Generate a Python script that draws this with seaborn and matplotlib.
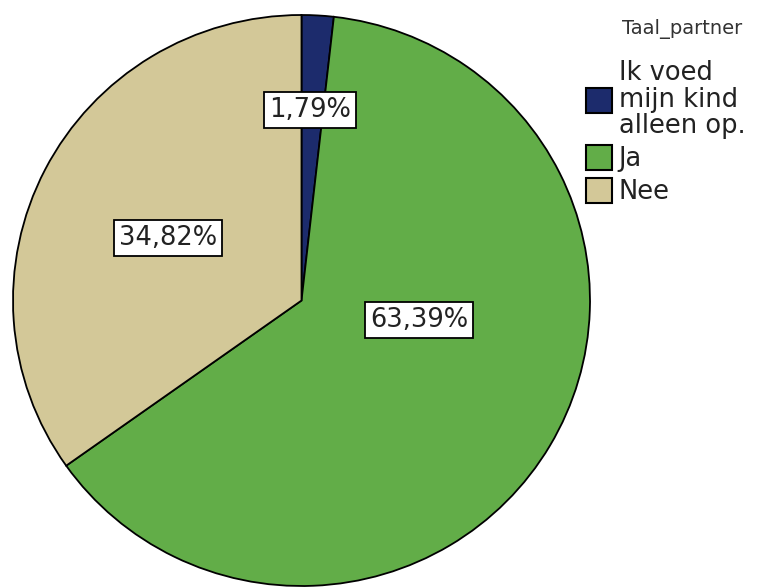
import matplotlib
matplotlib.use("Agg")
import matplotlib.pyplot as plt
import seaborn as sns

# data
categories = ["Ik voed\nmijn kind\nalleen op.", "Ja", "Nee"]
percentages = [1.79, 63.39, 34.82]
colors = ["#1c2b6c", "#62ad48", "#d3c898"]
# label anchor points inside the pie (data units, radius 1)
label_pos = [(0.03, 0.667), (0.407, -0.068), (-0.463, 0.219)]

sns.set_theme(style="white")
plt.rcParams["font.family"] = ["DejaVu Sans"]

fig = plt.figure(figsize=(7.62, 5.88), dpi=100)
W, H = 762, 588
cx, cy, rx, ry = 301.5, 300.5, 288.5, 285.5
ax = fig.add_axes([(cx - rx) / W, (H - cy - ry) / H, 2 * rx / W, 2 * ry / H])

wedges, _ = ax.pie(percentages, colors=colors, startangle=90, counterclock=False,
                   wedgeprops=dict(edgecolor="black", linewidth=1.3))
ax.set_aspect("auto")
ax.set_xlim(-1, 1)
ax.set_ylim(-1, 1)

for v, (x, y) in zip(percentages, label_pos):
    ax.text(x, y, f"{v:.2f}%".replace(".", ","), ha="center", va="center",
            fontsize=18.5, color="#222222",
            bbox=dict(boxstyle="square,pad=0.2", facecolor="white",
                      edgecolor="black", linewidth=1.3))

# legend title drawn on its own so the gap matches the original
fig.text(682 / W, 1 - 29 / H, "Taal_partner", ha="center", va="center",
         fontsize=14, color="#333333")

leg = fig.legend(wedges, categories,
                 loc="upper left", bbox_to_anchor=(586 / W, 1 - 60 / H),
                 frameon=False, fontsize=18.5,
                 handlelength=1.02, handleheight=1.12, handletextpad=0.25,
                 labelspacing=0.22, borderaxespad=0, borderpad=0)
for t in leg.get_texts():
    t.set_linespacing(1.03)
    t.set_color("#222222")
for h in leg.legend_handles:
    h.set_edgecolor("black")
    h.set_linewidth(1.5)

plt.savefig("out.png", dpi=100)
